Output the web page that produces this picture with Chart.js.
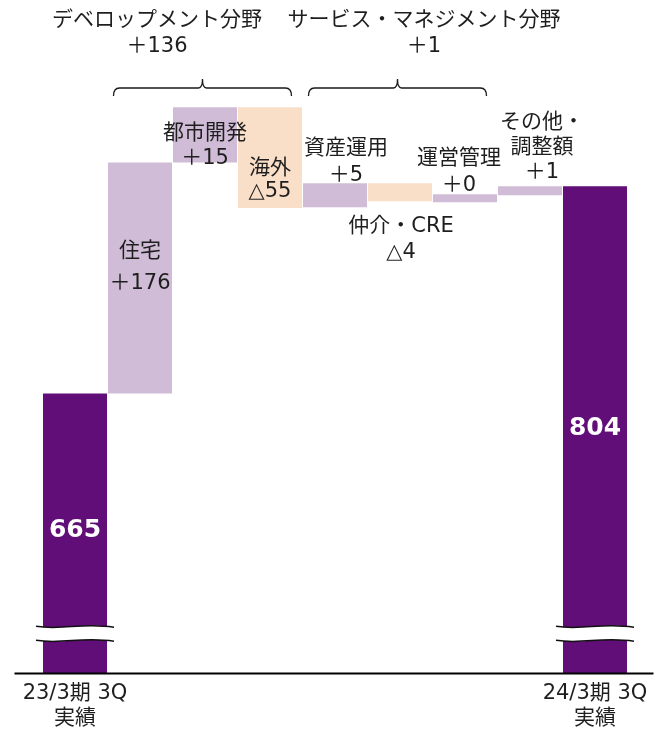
<!DOCTYPE html>
<html lang="ja">
<head>
<meta charset="utf-8">
<title>営業利益 増減</title>
<script src="https://cdn.jsdelivr.net/npm/chart.js@4.4.1/dist/chart.umd.min.js"></script>
<style>
  html, body { margin: 0; padding: 0; background: #ffffff; }
  canvas { display: block; }
</style>
</head>
<body>
<canvas id="grafico" width="663" height="739"></canvas>
<script>
// Datos del gráfico
const nameLines = [
  ["23/3期 3Q", "実績"],
  ["住宅"],
  ["都市開発"],
  ["海外"],
  ["資産運用"],
  ["仲介・CRE"],
  ["運営管理"],
  ["その他・", "調整額"],
  ["24/3期 3Q", "実績"],
];
const valueLabels = ["665", "＋176", "＋15", "△55", "＋5", "△4", "＋0", "＋1", "804"];
const barKind = ["total", "up", "up", "down", "up", "down", "up", "up", "total"];

// The source chart is not drawn to scale (axis is broken), so the bar ranges
// are read off the picture in its own display units.
const barFrom = [477, 665, 820, 857, 790, 806, 793.3, 798, 477];
const barTo = [665, 820, 857, 789.4, 806, 794, 798.6, 804, 804];

const groupNames = ["デベロップメント分野", "サービス・マネジメント分野"];
const groupTotals = ["＋136", "＋1"];
const groupFirst = [1, 4];
const groupLast = [3, 6];

const breakValue = 504;

// Estilos
const FONT = '"DejaVu Sans", "Noto Sans CJK JP", sans-serif';
const TEXT = "#1e1e1e";
const colores = { total: "#620e78", up: "#d0bcd7", down: "#f9dec8" };

// label placement: edge of the bar and line offsets in px
const labelLayout = [
  { edge: "top", offs: [137], dx: 0 },
  { edge: "top", offs: [89, 121], dx: 0 },
  { edge: "top", offs: [26, 51], dx: 0 },
  { edge: "top", offs: [61, 84], dx: 0 },
  { edge: "top", offs: [-35, -8], dx: 11 },
  { edge: "bottom", offs: [25, 51], dx: 1 },
  { edge: "top", offs: [-36, -9], dx: -6 },
  { edge: "top", offs: [-64, -39, -14], dx: 12 },
  { edge: "top", offs: [242], dx: 0 },
];

const rangos = barFrom.map((v, i) => [v, barTo[i]]);

// Función para las etiquetas, llaves, corte de eje y línea base
const anotaciones = {
  id: "anotaciones",
  afterDatasetsDraw(chart) {
    const ctx = chart.ctx;
    const meta = chart.getDatasetMeta(0);
    const xs = chart.scales.x;
    const ys = chart.scales.y;
    const area = chart.chartArea;

    // corte del eje en las barras totales
    const yb = ys.getPixelForValue(breakValue);
    [0, 8].forEach((i) => {
      const el = meta.data[i];
      const x0 = el.x - el.width / 2 - 7;
      const x1 = el.x + el.width / 2 + 7;
      const w = x1 - x0;
      const wave = (y) => {
        ctx.moveTo(x0, y);
        ctx.bezierCurveTo(x0 + w * 0.35, y + 4, x0 + w * 0.6, y - 4, x1, y + 1);
      };
      ctx.save();
      ctx.beginPath();
      ctx.moveTo(x0, yb - 7);
      ctx.bezierCurveTo(x0 + w * 0.35, yb - 3, x0 + w * 0.6, yb - 11, x1, yb - 6);
      ctx.lineTo(x1, yb + 8);
      ctx.bezierCurveTo(x0 + w * 0.6, yb + 3, x0 + w * 0.35, yb + 11, x0, yb + 7);
      ctx.closePath();
      ctx.fillStyle = "#ffffff";
      ctx.fill();
      ctx.beginPath();
      wave(yb - 7);
      wave(yb + 7);
      ctx.strokeStyle = "#111111";
      ctx.lineWidth = 1.5;
      ctx.stroke();
      ctx.restore();
    });

    // línea base
    ctx.save();
    ctx.beginPath();
    ctx.moveTo(area.left - 28, area.bottom);
    ctx.lineTo(area.right + 26, area.bottom);
    ctx.strokeStyle = "#000000";
    ctx.lineWidth = 2;
    ctx.stroke();
    ctx.restore();

    // etiquetas de las barras
    ctx.save();
    ctx.textAlign = "center";
    ctx.textBaseline = "middle";
    labelLayout.forEach((lay, i) => {
      const el = meta.data[i];
      const top = Math.min(el.y, el.base);
      const bottom = Math.max(el.y, el.base);
      const ref = lay.edge === "top" ? top : bottom;
      let lines;
      if (barKind[i] === "total") {
        lines = [valueLabels[i]];
        ctx.fillStyle = "#ffffff";
        ctx.font = "bold 25px " + FONT;
      } else {
        lines = nameLines[i].concat(valueLabels[i]);
        ctx.fillStyle = TEXT;
        ctx.font = "21px " + FONT;
      }
      lines.forEach((txt, k) => {
        ctx.fillText(txt, el.x + lay.dx, ref + lay.offs[k]);
      });
    });

    // llaves y títulos de grupo
    ctx.strokeStyle = "#1a1a1a";
    ctx.lineWidth = 1.3;
    const titleDx = [17, 24];
    groupNames.forEach((name, g) => {
      const step = xs.getPixelForValue(1) - xs.getPixelForValue(0);
      const x0 = xs.getPixelForValue(groupFirst[g]) - step / 2 + 6;
      const x1 = xs.getPixelForValue(groupLast[g]) + step / 2 - 11;
      const xm = (x0 + x1) / 2;
      const yl = 88;
      ctx.beginPath();
      ctx.moveTo(x0, yl + 8);
      ctx.quadraticCurveTo(x0, yl, x0 + 6, yl);
      ctx.lineTo(xm - 4, yl);
      ctx.quadraticCurveTo(xm, yl, xm, yl - 9);
      ctx.quadraticCurveTo(xm, yl, xm + 4, yl);
      ctx.lineTo(x1 - 6, yl);
      ctx.quadraticCurveTo(x1, yl, x1, yl + 8);
      ctx.stroke();

      const xc = xs.getPixelForValue(groupFirst[g] === 1 ? 1 : 5) + titleDx[g];
      ctx.fillStyle = TEXT;
      ctx.font = "21px " + FONT;
      ctx.fillText(name, xc, 21);
      ctx.fillText(groupTotals[g], xc, 47);
    });
    ctx.restore();
  },
};

// Función para dibujar el gráfico
function drawChart() {
  const ctx = document.getElementById("grafico").getContext("2d");
  new Chart(ctx, {
    type: "bar",
    data: {
      labels: nameLines,
      datasets: [
        {
          data: rangos,
          backgroundColor: barKind.map((k) => colores[k]),
          borderWidth: 0,
          barPercentage: 0.985,
          categoryPercentage: 1,
        },
      ],
    },
    options: {
      responsive: false,
      animation: false,
      devicePixelRatio: 1,
      layout: {
        padding: { left: 42.5, right: 35.5, top: 73, bottom: 0.2 },
      },
      plugins: {
        legend: { display: false },
        tooltip: { enabled: false },
      },
      scales: {
        x: {
          grid: { display: false, drawTicks: false },
          border: { display: false },
          ticks: {
            autoSkip: false,
            maxRotation: 0,
            padding: 7.4,
            color: TEXT,
            font: { family: FONT, size: 21, lineHeight: 1.2 },
            callback: (v, i) => (barKind[i] === "total" ? nameLines[i] : ""),
          },
        },
        y: {
          display: false,
          min: 477,
          max: 880,
        },
      },
    },
    plugins: [anotaciones],
  });
}

drawChart();
</script>
</body>
</html>
